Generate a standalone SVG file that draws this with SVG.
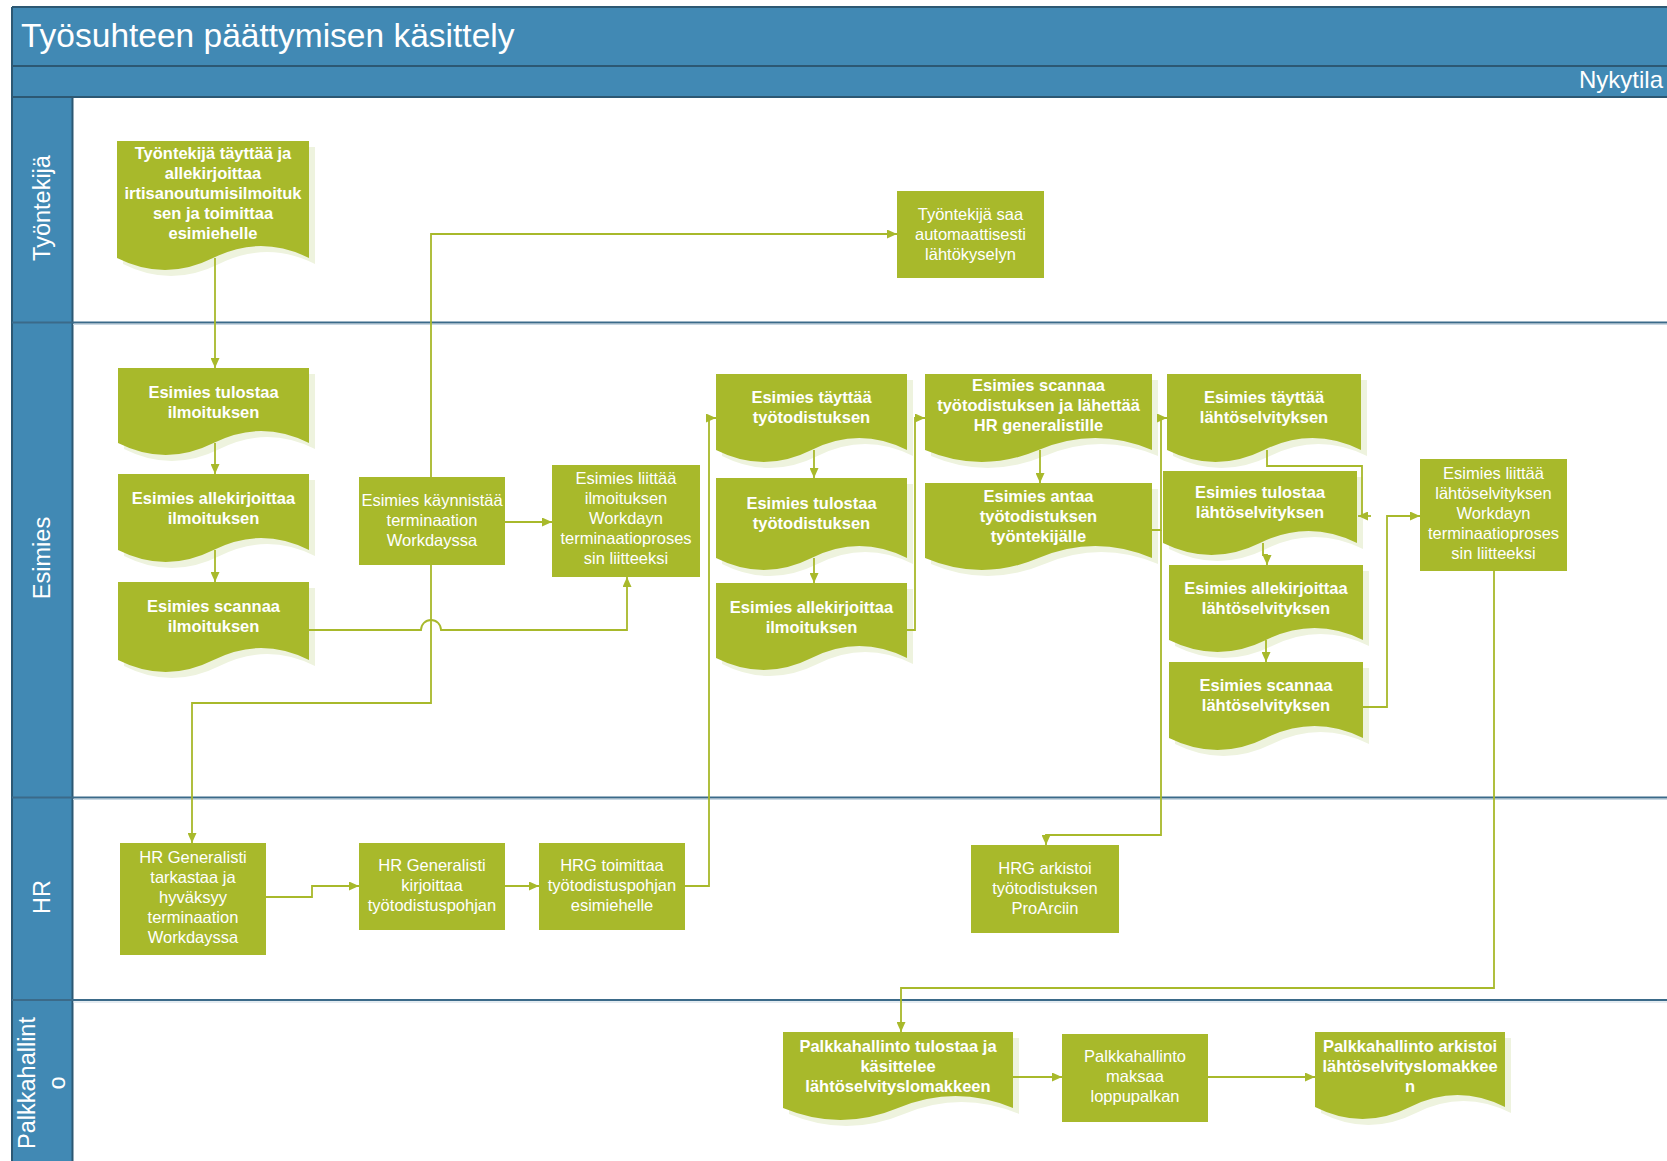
<svg xmlns="http://www.w3.org/2000/svg" width="1667" height="1161" viewBox="0 0 1667 1161">
<defs>
<style>
.band{fill:#4189b4}
.edge{stroke:#2c5873;stroke-width:2;fill:none}
.div{stroke:#3b6a89;stroke-width:2;fill:none}
.divl{stroke:#c9d8e3;stroke-width:1;fill:none}
.title{font-family:"Liberation Sans",Arial,sans-serif;fill:#ffffff;font-size:33.5px}
.lane{font-family:"Liberation Sans",Arial,sans-serif;fill:#ffffff;font-size:23.5px;text-anchor:middle}
.shape{fill:#a8b92b}
.shadow{fill:#eef3de}
.tb{font-family:"Liberation Sans",Arial,sans-serif;fill:#ffffff;font-size:16.5px;font-weight:bold;text-anchor:middle}
.tr{font-family:"Liberation Sans",Arial,sans-serif;fill:#ffffff;font-size:16.5px;text-anchor:middle}
.conn{stroke:#a8b92b;stroke-width:1.8;fill:none;marker-end:url(#arr)}
.line{stroke:#a8b92b;stroke-width:1.8;fill:none}
</style>
<marker id="arr" viewBox="0 0 10 9" refX="10" refY="4.5" markerWidth="10" markerHeight="9" markerUnits="userSpaceOnUse" orient="auto"><path d="M0,0L10,4.5L0,9Z" fill="#a8b92b"/></marker>
</defs>
<rect x="0" y="0" width="1667" height="1161" fill="#ffffff"/>
<g id="pool">
<rect class="band" x="12" y="7" width="1660" height="90"/>
<rect class="band" x="12" y="97" width="60.5" height="1070"/>
<path class="edge" d="M12,7H1667M12,7V1161M12,66H1667M12,97H1667M72.5,97V1161"/>
<path class="divl" d="M73,324.5H1667M73,799.5H1667M73,1002H1667"/>
<path class="div" d="M12,322.5H1667M12,797.5H1667M12,1000H1667"/>
<text class="title" x="21" y="47">Työsuhteen päättymisen käsittely</text>
<text class="title" x="1663" y="88" style="font-size:24px;text-anchor:end">Nykytila</text>
<text class="lane" transform="translate(50,208) rotate(-90)">Työntekijä</text>
<text class="lane" transform="translate(50,558) rotate(-90)">Esimies</text>
<text class="lane" transform="translate(50,897) rotate(-90)">HR</text>
<text class="lane" transform="translate(35,1083) rotate(-90)">Palkkahallint</text>
<text class="lane" transform="translate(65,1083) rotate(-90)">o</text>
</g>
<g id="nodes">
<g id="n1">
<path class="shadow" transform="translate(6,6)" d="M117,141H309V258Q261,234 213,258T117,258Z"/>
<path class="shape" d="M117,141H309V258Q261,234 213,258T117,258Z"/>
<text class="tb"><tspan x="213" y="159">Työntekijä täyttää ja</tspan><tspan x="213" y="179">allekirjoittaa</tspan><tspan x="213" y="199">irtisanoutumisilmoituk</tspan><tspan x="213" y="219">sen ja toimittaa</tspan><tspan x="213" y="239">esimiehelle</tspan></text>
</g>
<g id="n2">
<path class="shadow" transform="translate(6,6)" d="M118,368H309V443Q261.25,419 213.5,443T118,443Z"/>
<path class="shape" d="M118,368H309V443Q261.25,419 213.5,443T118,443Z"/>
<text class="tb"><tspan x="213.5" y="398">Esimies tulostaa</tspan><tspan x="213.5" y="418">ilmoituksen</tspan></text>
</g>
<g id="n3">
<path class="shadow" transform="translate(6,6)" d="M118,474H309V550Q261.25,526 213.5,550T118,550Z"/>
<path class="shape" d="M118,474H309V550Q261.25,526 213.5,550T118,550Z"/>
<text class="tb"><tspan x="213.5" y="504">Esimies allekirjoittaa</tspan><tspan x="213.5" y="524">ilmoituksen</tspan></text>
</g>
<g id="n4">
<path class="shadow" transform="translate(6,6)" d="M118,582H309V660Q261.25,636 213.5,660T118,660Z"/>
<path class="shape" d="M118,582H309V660Q261.25,636 213.5,660T118,660Z"/>
<text class="tb"><tspan x="213.5" y="612">Esimies scannaa</tspan><tspan x="213.5" y="632">ilmoituksen</tspan></text>
</g>
<g id="n5">
<rect class="shape" x="359" y="477" width="146" height="88"/>
<text class="tr"><tspan x="432" y="506">Esimies käynnistää</tspan><tspan x="432" y="526">terminaation</tspan><tspan x="432" y="546">Workdayssa</tspan></text>
</g>
<g id="n6">
<rect class="shape" x="552" y="465" width="148" height="112"/>
<text class="tr"><tspan x="626" y="484">Esimies liittää</tspan><tspan x="626" y="504">ilmoituksen</tspan><tspan x="626" y="524">Workdayn</tspan><tspan x="626" y="544">terminaatioproses</tspan><tspan x="626" y="564">sin liitteeksi</tspan></text>
</g>
<g id="n7">
<rect class="shape" x="897" y="191" width="147" height="87"/>
<text class="tr"><tspan x="970.5" y="220">Työntekijä saa</tspan><tspan x="970.5" y="240">automaattisesti</tspan><tspan x="970.5" y="260">lähtökyselyn</tspan></text>
</g>
<g id="n8">
<path class="shadow" transform="translate(6,6)" d="M716,374H907V450Q859.25,426 811.5,450T716,450Z"/>
<path class="shape" d="M716,374H907V450Q859.25,426 811.5,450T716,450Z"/>
<text class="tb"><tspan x="811.5" y="403">Esimies täyttää</tspan><tspan x="811.5" y="423">työtodistuksen</tspan></text>
</g>
<g id="n9">
<path class="shadow" transform="translate(6,6)" d="M716,478H907V558Q859.25,534 811.5,558T716,558Z"/>
<path class="shape" d="M716,478H907V558Q859.25,534 811.5,558T716,558Z"/>
<text class="tb"><tspan x="811.5" y="509">Esimies tulostaa</tspan><tspan x="811.5" y="529">työtodistuksen</tspan></text>
</g>
<g id="n10">
<path class="shadow" transform="translate(6,6)" d="M716,583H907V658Q859.25,634 811.5,658T716,658Z"/>
<path class="shape" d="M716,583H907V658Q859.25,634 811.5,658T716,658Z"/>
<text class="tb"><tspan x="811.5" y="613">Esimies allekirjoittaa</tspan><tspan x="811.5" y="633">ilmoituksen</tspan></text>
</g>
<g id="n11">
<path class="shadow" transform="translate(6,6)" d="M925,374H1152V450Q1095.25,426 1038.5,450T925,450Z"/>
<path class="shape" d="M925,374H1152V450Q1095.25,426 1038.5,450T925,450Z"/>
<text class="tb"><tspan x="1038.5" y="391">Esimies scannaa</tspan><tspan x="1038.5" y="411">työtodistuksen ja lähettää</tspan><tspan x="1038.5" y="431">HR generalistille</tspan></text>
</g>
<g id="n12">
<path class="shadow" transform="translate(6,6)" d="M925,483H1152V558Q1095.25,534 1038.5,558T925,558Z"/>
<path class="shape" d="M925,483H1152V558Q1095.25,534 1038.5,558T925,558Z"/>
<text class="tb"><tspan x="1038.5" y="502">Esimies antaa</tspan><tspan x="1038.5" y="522">työtodistuksen</tspan><tspan x="1038.5" y="542">työntekijälle</tspan></text>
</g>
<g id="n13">
<path class="shadow" transform="translate(6,6)" d="M1167,374H1361V450Q1312.5,426 1264,450T1167,450Z"/>
<path class="shape" d="M1167,374H1361V450Q1312.5,426 1264,450T1167,450Z"/>
<text class="tb"><tspan x="1264" y="403">Esimies täyttää</tspan><tspan x="1264" y="423">lähtöselvityksen</tspan></text>
</g>
<g id="n14">
<path class="shadow" transform="translate(6,6)" d="M1163,471H1357V543Q1308.5,519 1260,543T1163,543Z"/>
<path class="shape" d="M1163,471H1357V543Q1308.5,519 1260,543T1163,543Z"/>
<text class="tb"><tspan x="1260" y="498">Esimies tulostaa</tspan><tspan x="1260" y="518">lähtöselvityksen</tspan></text>
</g>
<g id="n15">
<path class="shadow" transform="translate(6,6)" d="M1169,565H1363V640Q1314.5,616 1266,640T1169,640Z"/>
<path class="shape" d="M1169,565H1363V640Q1314.5,616 1266,640T1169,640Z"/>
<text class="tb"><tspan x="1266" y="594">Esimies allekirjoittaa</tspan><tspan x="1266" y="614">lähtöselvityksen</tspan></text>
</g>
<g id="n16">
<path class="shadow" transform="translate(6,6)" d="M1169,662H1363V738Q1314.5,714 1266,738T1169,738Z"/>
<path class="shape" d="M1169,662H1363V738Q1314.5,714 1266,738T1169,738Z"/>
<text class="tb"><tspan x="1266" y="691">Esimies scannaa</tspan><tspan x="1266" y="711">lähtöselvityksen</tspan></text>
</g>
<g id="n17">
<rect class="shape" x="1420" y="459" width="147" height="112"/>
<text class="tr"><tspan x="1493.5" y="479">Esimies liittää</tspan><tspan x="1493.5" y="499">lähtöselvityksen</tspan><tspan x="1493.5" y="519">Workdayn</tspan><tspan x="1493.5" y="539">terminaatioproses</tspan><tspan x="1493.5" y="559">sin liitteeksi</tspan></text>
</g>
<g id="n18">
<rect class="shape" x="120" y="843" width="146" height="112"/>
<text class="tr"><tspan x="193" y="863">HR Generalisti</tspan><tspan x="193" y="883">tarkastaa ja</tspan><tspan x="193" y="903">hyväksyy</tspan><tspan x="193" y="923">terminaation</tspan><tspan x="193" y="943">Workdayssa</tspan></text>
</g>
<g id="n19">
<rect class="shape" x="359" y="843" width="146" height="87"/>
<text class="tr"><tspan x="432" y="871">HR Generalisti</tspan><tspan x="432" y="891">kirjoittaa</tspan><tspan x="432" y="911">työtodistuspohjan</tspan></text>
</g>
<g id="n20">
<rect class="shape" x="539" y="843" width="146" height="87"/>
<text class="tr"><tspan x="612" y="871">HRG toimittaa</tspan><tspan x="612" y="891">työtodistuspohjan</tspan><tspan x="612" y="911">esimiehelle</tspan></text>
</g>
<g id="n21">
<rect class="shape" x="971" y="845" width="148" height="88"/>
<text class="tr"><tspan x="1045" y="874">HRG arkistoi</tspan><tspan x="1045" y="894">työtodistuksen</tspan><tspan x="1045" y="914">ProArciin</tspan></text>
</g>
<g id="n22">
<path class="shadow" transform="translate(6,6)" d="M783,1032H1013V1108Q955.5,1084 898,1108T783,1108Z"/>
<path class="shape" d="M783,1032H1013V1108Q955.5,1084 898,1108T783,1108Z"/>
<text class="tb"><tspan x="898" y="1052">Palkkahallinto tulostaa ja</tspan><tspan x="898" y="1072">käsittelee</tspan><tspan x="898" y="1092">lähtöselvityslomakkeen</tspan></text>
</g>
<g id="n23">
<rect class="shape" x="1062" y="1034" width="146" height="88"/>
<text class="tr"><tspan x="1135" y="1062">Palkkahallinto</tspan><tspan x="1135" y="1082">maksaa</tspan><tspan x="1135" y="1102">loppupalkan</tspan></text>
</g>
<g id="n24">
<path class="shadow" transform="translate(6,6)" d="M1315,1032H1505V1107Q1457.5,1083 1410,1107T1315,1107Z"/>
<path class="shape" d="M1315,1032H1505V1107Q1457.5,1083 1410,1107T1315,1107Z"/>
<text class="tb"><tspan x="1410" y="1052">Palkkahallinto arkistoi</tspan><tspan x="1410" y="1072">lähtöselvityslomakkee</tspan><tspan x="1410" y="1092">n</tspan></text>
</g>
</g>
<g id="connectors">
<path class="conn" d="M215,258V368"/>
<path class="conn" d="M215,443V474"/>
<path class="conn" d="M215,550V582"/>
<path class="conn" d="M309,630H421A10,10 0 0 1 441,630H627V577"/>
<path class="conn" d="M505,522H552"/>
<path class="conn" d="M431,477V234H897"/>
<path class="conn" d="M431,565V703H192V843"/>
<path class="conn" d="M266,897H312V886H359"/>
<path class="conn" d="M505,886H539"/>
<path class="conn" d="M685,886H709V418H716"/>
<path class="conn" d="M814,450V478"/>
<path class="conn" d="M814,558V583"/>
<path class="conn" d="M907,630H915V418H925"/>
<path class="conn" d="M1040,450V483"/>
<path class="conn" d="M1152,530H1161V418H1167"/>
<path class="conn" d="M1161,530V835H1046V845"/>
<path class="line" d="M1267,450V466H1362V516"/>
<path class="conn" d="M1371,516H1358"/>
<path class="conn" d="M1263,543V555H1267V565"/>
<path class="conn" d="M1266,640V662"/>
<path class="conn" d="M1363,707H1387V516H1420"/>
<path class="conn" d="M1494,571V988H901V1032"/>
<path class="conn" d="M1013,1077H1062"/>
<path class="conn" d="M1208,1077H1315"/>
</g>
</svg>
